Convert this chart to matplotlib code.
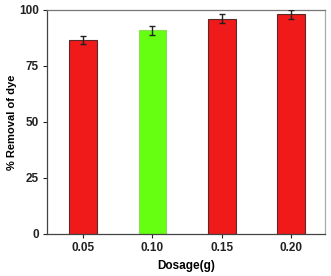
import matplotlib
matplotlib.use("Agg")
import matplotlib.pyplot as plt

dosage = [0.05, 0.10, 0.15, 0.20]
dosage_labels = ["0.05", "0.10", "0.15", "0.20"]
removal = [86.8, 91.0, 96.0, 98.0]
errors = [1.8, 2.0, 2.0, 2.0]
colors = ["#f01a1a", "#66ff11", "#f01a1a", "#f01a1a"]
edgecolors = ["#5a2a2a", "#88dd55", "#5a2a2a", "#5a2a2a"]

plt.rcParams['font.family'] = ['Liberation Sans', 'DejaVu Sans']
plt.rcParams['font.weight'] = 'bold'
plt.rcParams['font.stretch'] = 'normal'

fig = plt.figure(figsize=(3.31, 2.76), dpi=100)
ax = fig.add_axes([47/331, 1-234/276, (325-47)/331, (234-10)/276])

ax.bar(dosage, removal, width=0.02, color=colors, edgecolor=edgecolors, linewidth=0.8, zorder=2)
ax.errorbar(dosage, removal, yerr=errors, fmt='none', ecolor='#222222', elinewidth=1.0,
            capsize=2.5, capthick=1.0, zorder=3, clip_on=True)

ax.set_xlim(0.024, 0.2245)
ax.set_ylim(0, 100)
ax.set_xticks(dosage)
ax.set_xticklabels(dosage_labels)
ax.set_yticks([0, 25, 50, 75, 100])
ax.tick_params(axis='both', direction='out', length=3, width=0.8, labelsize=8.5, colors='#222222', pad=3)
for lab in ax.get_xticklabels() + ax.get_yticklabels():
    lab.set_fontweight('bold')
ax.set_xlabel("Dosage(g)", fontsize=8.5, fontweight='bold', labelpad=4)
ax.set_ylabel("% Removal of dye", fontsize=8, fontweight='bold', labelpad=1.5)

ax.spines['left'].set_color('#444444')
ax.spines['bottom'].set_color('#444444')
ax.spines['top'].set_color('#777777')
ax.spines['right'].set_color('#aaaaaa')
for s in ax.spines.values():
    s.set_linewidth(0.9)

fig.savefig("out.png", dpi=100)
